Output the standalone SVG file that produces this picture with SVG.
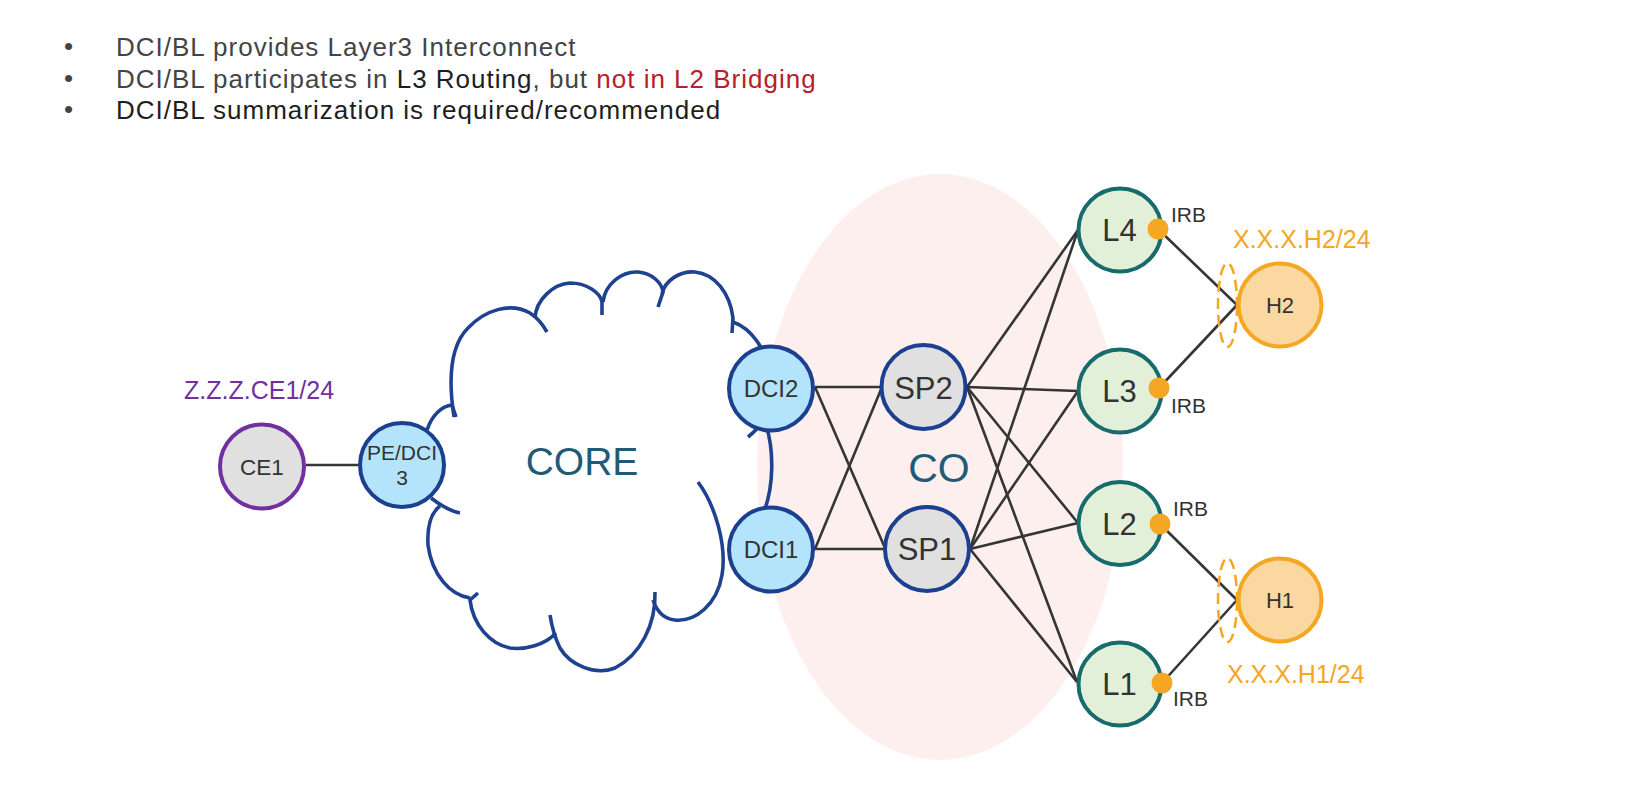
<svg xmlns="http://www.w3.org/2000/svg" width="1651" height="794" viewBox="0 0 1651 794">
<style>
.bt{font-family:"Liberation Sans",Arial,sans-serif;font-size:26px;letter-spacing:1px;fill:#444}
.dk{fill:#1e1e1e}
.rd{fill:#b5202a}
.nt{font-family:"Liberation Sans",Arial,sans-serif;fill:#333;text-anchor:middle}
.blue{fill:#b3e4fb;stroke:#1c3f8f;stroke-width:4}
.gray{fill:#e0e0e0;stroke:#1c3f8f;stroke-width:4}
.leaf{fill:#e2f0da;stroke:#186b6c;stroke-width:4}
.host{fill:#fad8a0;stroke:#f5a623;stroke-width:4}
.ce{fill:#e0e0e0;stroke:#7030a0;stroke-width:4}
.dot{fill:#f5a623}
.ln{stroke:#353535;stroke-width:2.6;fill:none}
.cl{stroke:#1e4290;stroke-width:3.6;fill:none;stroke-linecap:butt}
.dash{fill:none;stroke:#f5a623;stroke-width:2.5;stroke-dasharray:11 6}
.irb{font-family:"Liberation Sans",Arial,sans-serif;font-size:21px;fill:#333}
.addr{font-family:"Liberation Sans",Arial,sans-serif;font-size:25px}
</style>
<rect width="1651" height="794" fill="#ffffff"/>
<g id="bullets">
<text class="bt" x="64" y="55" font-size="20">•</text>
<text class="bt" x="64" y="87" font-size="20">•</text>
<text class="bt" x="64" y="118" font-size="20">•</text>
<text class="bt" x="116" y="56">DCI/BL provides Layer3 Interconnect</text>
<text class="bt" x="116" y="88">DCI/BL participates in <tspan class="dk">L3 Routing</tspan>, but <tspan class="rd">not in L2 Bridging</tspan></text>
<text class="bt dk" x="116" y="119">DCI/BL summarization is required/recommended</text>
</g>
<g id="co-region">
<ellipse cx="940" cy="467" rx="183" ry="293" fill="#fdefee"/>
<text x="939" y="482" font-family="Liberation Sans,Arial,sans-serif" font-size="41" fill="#1f5b78" text-anchor="middle">CO</text>
</g>
<g id="core-cloud">
<path class="cl" d="M427,430 C432,415 442,406 452,405 L456,417"/>
<path class="cl" d="M454,417 C448,378 451,345 468,328 C485,310 510,302 530,313 C538,318 543,325 547,332"/>
<path class="cl" d="M535,318 C536,300 553,284 570,283 C586,283 600,292 602,302 L602,315"/>
<path class="cl" d="M603,302 C605,284 622,271 638,272 C652,273 662,283 663,292 L658,307"/>
<path class="cl" d="M662,294 C665,280 680,271 695,272 C715,274 730,293 733,318 L732,333"/>
<path class="cl" d="M733,322 C770,335 790,405 748,437"/>
<path class="cl" d="M766,425 C774,450 774,485 764,512"/>
<path class="cl" d="M698,482 C715,505 727,545 722,575 C717,605 695,622 675,620 C665,619 657,612 653,600"/>
<path class="cl" d="M655,592 C656,625 640,655 615,668 C595,676 570,665 560,648 C555,638 552,628 550,615"/>
<path class="cl" d="M556,633 C545,645 525,650 510,648 C490,644 473,625 470,600 L478,593"/>
<path class="cl" d="M470,598 C450,595 432,575 428,545 C427,525 432,512 440,506"/>
<path class="cl" d="M431,498 C440,505 450,511 460,513"/>
<text x="582" y="475" font-family="Liberation Sans,Arial,sans-serif" font-size="39" fill="#1f5b78" text-anchor="middle">CORE</text>
</g>
<g id="connectors">
<line class="ln" x1="306" y1="465" x2="358" y2="465" stroke-width="3"/>
<line class="ln" x1="815" y1="387" x2="882" y2="387"/>
<line class="ln" x1="815" y1="387" x2="885" y2="548"/>
<line class="ln" x1="815" y1="549" x2="882" y2="387"/>
<line class="ln" x1="815" y1="549" x2="885" y2="549"/>
<line class="ln" x1="967" y1="387" x2="1078" y2="230"/>
<line class="ln" x1="967" y1="387" x2="1078" y2="391"/>
<line class="ln" x1="967" y1="387" x2="1078" y2="523"/>
<line class="ln" x1="967" y1="387" x2="1077" y2="682"/>
<line class="ln" x1="970" y1="549" x2="1078" y2="230"/>
<line class="ln" x1="970" y1="549" x2="1078" y2="391"/>
<line class="ln" x1="970" y1="549" x2="1078" y2="523"/>
<line class="ln" x1="970" y1="549" x2="1077" y2="682"/>
<line class="ln" x1="1158" y1="229" x2="1237" y2="305"/>
<line class="ln" x1="1159" y1="388" x2="1237" y2="305"/>
<line class="ln" x1="1160" y1="524" x2="1237" y2="600"/>
<line class="ln" x1="1162" y1="683" x2="1237" y2="600"/>
</g>
<g id="CE1">
<text class="addr" x="184" y="399" fill="#7030a0">Z.Z.Z.CE1/24</text>
<circle class="ce" cx="262" cy="466.5" r="42"/>
<text class="nt" x="262" y="474.5" font-size="22.5">CE1</text>
</g>
<g id="PE-DCI3">
<circle class="blue" cx="402" cy="465" r="42"/>
<text class="nt" x="402" y="460" font-size="21">PE/DCI</text>
<text class="nt" x="402" y="485" font-size="21">3</text>
</g>
<g id="DCI2">
<circle class="blue" cx="771" cy="388.5" r="42"/>
<text class="nt" x="771" y="397" font-size="24">DCI2</text>
</g>
<g id="DCI1">
<circle class="blue" cx="771" cy="549.5" r="42"/>
<text class="nt" x="771" y="558" font-size="24">DCI1</text>
</g>
<g id="SP2">
<circle class="gray" cx="923.5" cy="387" r="42"/>
<text class="nt" x="923.5" y="398.5" font-size="31">SP2</text>
</g>
<g id="SP1">
<circle class="gray" cx="927" cy="549" r="42"/>
<text class="nt" x="927" y="560" font-size="31">SP1</text>
</g>
<g id="L4">
<circle class="leaf" cx="1120" cy="230" r="41.5"/>
<text class="nt" x="1119.5" y="241" font-size="31">L4</text>
<circle class="dot" cx="1158" cy="229" r="10.5"/>
<text class="irb" x="1171" y="222">IRB</text>
</g>
<g id="L3">
<circle class="leaf" cx="1120" cy="391" r="41.5"/>
<text class="nt" x="1119.5" y="402" font-size="31">L3</text>
<circle class="dot" cx="1159" cy="388" r="10.5"/>
<text class="irb" x="1171" y="413">IRB</text>
</g>
<g id="L2">
<circle class="leaf" cx="1120" cy="523.5" r="41.5"/>
<text class="nt" x="1119.5" y="534.5" font-size="31">L2</text>
<circle class="dot" cx="1160" cy="524" r="10.5"/>
<text class="irb" x="1173" y="516">IRB</text>
</g>
<g id="L1">
<circle class="leaf" cx="1120" cy="684" r="41.5"/>
<text class="nt" x="1119.5" y="695" font-size="31">L1</text>
<circle class="dot" cx="1162" cy="683" r="10.5"/>
<text class="irb" x="1173" y="706">IRB</text>
</g>
<g id="H2">
<ellipse class="dash" cx="1227.5" cy="305" rx="9.5" ry="42"/>
<circle class="host" cx="1280" cy="305" r="41.5"/>
<text class="nt" x="1280" y="313" font-size="22">H2</text>
<text class="addr" x="1233" y="248" fill="#f5a623">X.X.X.H2/24</text>
</g>
<g id="H1">
<ellipse class="dash" cx="1227.5" cy="600" rx="9.5" ry="42"/>
<circle class="host" cx="1280" cy="600" r="41.5"/>
<text class="nt" x="1280" y="608" font-size="22">H1</text>
<text class="addr" x="1227" y="683" fill="#f5a623">X.X.X.H1/24</text>
</g>
</svg>
